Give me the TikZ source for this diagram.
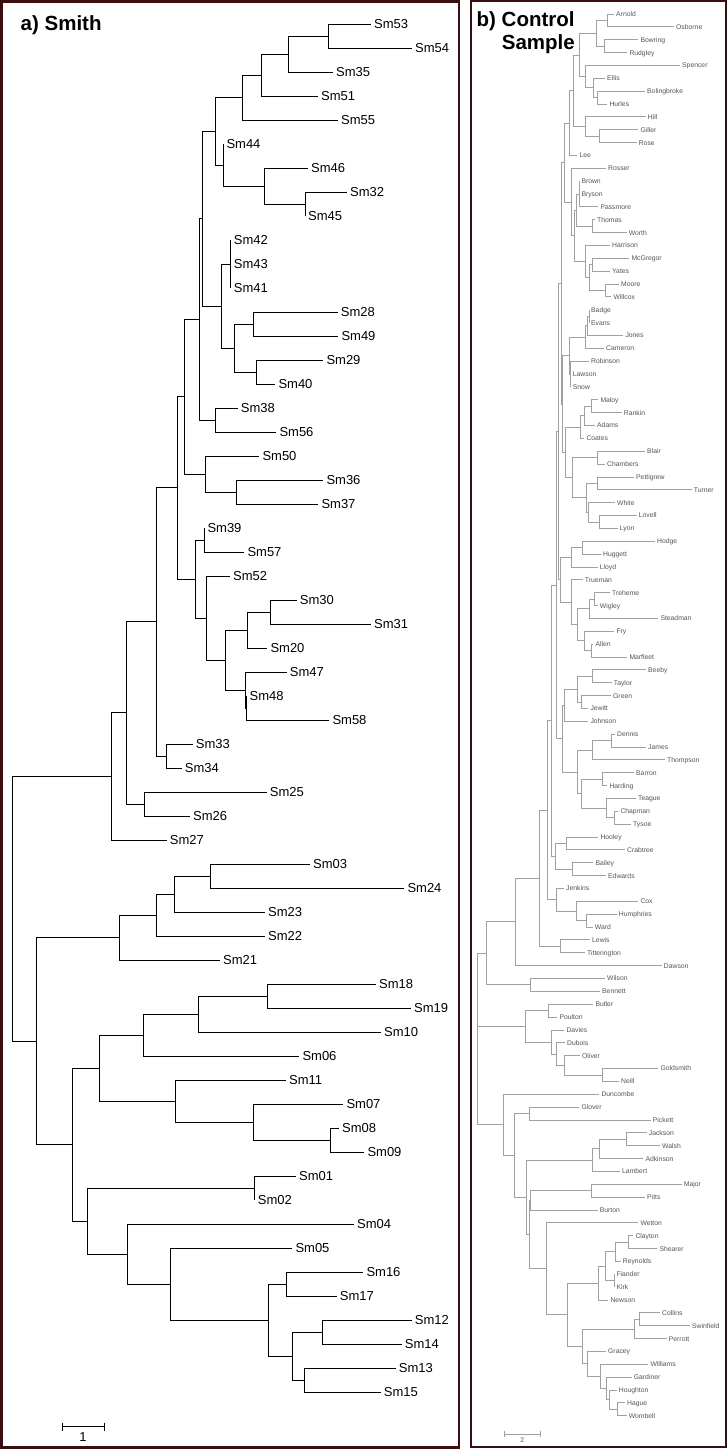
\documentclass[tikz,border=0pt]{standalone}
\usepackage{fontspec}
\setmainfont{Liberation Sans}
\definecolor{framecol}{HTML}{3A0E0E}
\definecolor{ctlline}{HTML}{A0A0A0}
\definecolor{ctltext}{HTML}{555555}
\tikzset{
  frame/.style={draw=framecol,line width=2.6pt},
  title/.style={font=\fontsize{20.5}{24}\selectfont\bfseries,inner sep=0pt},
  smleaf/.style={anchor=west,inner sep=3pt,text height=9.3pt,text depth=0pt,font=\fontsize{13}{13}\selectfont},
  ctlleaf/.style={anchor=west,inner sep=2pt,text height=4.9pt,text depth=0pt,text=ctltext,font=\fontsize{6.8}{7}\selectfont},
  smedge/.style={line width=1pt},
  ctledge/.style={draw=ctlline,line width=0.9pt}
}
\begin{document}
\begin{tikzpicture}[x=1pt,y=-1pt]
\useasboundingbox (0,0) rectangle (727,1449);
\fill[white] (0,0) rectangle (727,1449);
\draw[frame] (1.3,1.3) rectangle (459,1447.5);
\draw[frame,line width=2pt] (471,1.2) rectangle (725.8,1446.5);
\node[title,anchor=base west] (ttla) at (20.5,30.5) {a) Smith};
\node[title,anchor=base west] (ttlb) at (476.5,26.2) {b) Control};
\node[title,anchor=base east] (ttlc) at (575,49.5) {Sample};

% a) Smith
\begin{scope}[y=-24pt]
  \foreach \n/\x/\r in {Sm53/371/1, Sm54/412/2, Sm35/333/3, Sm51/318/4, Sm55/338/5,
    Sm44/223.3/6, Sm46/308/7, Sm32/347/8, Sm45/305/9, Sm42/230.7/10, Sm43/230.7/11,
    Sm41/230.7/12, Sm28/337.7/13, Sm49/338.3/14, Sm29/323.3/15, Sm40/275.3/16,
    Sm38/237.7/17, Sm56/276.3/18, Sm50/259.3/19, Sm36/323.3/20, Sm37/318.3/21,
    Sm39/204.3/22, Sm57/244.3/23, Sm52/230/24, Sm30/296.7/25, Sm31/371/26,
    Sm20/267.3/27, Sm47/286.7/28, Sm48/246.5/29, Sm58/329.3/30, Sm33/192.7/31,
    Sm34/181.7/32, Sm25/266.7/33, Sm26/190/34, Sm27/166.7/35, Sm03/310/36,
    Sm24/404.3/37, Sm23/265/38, Sm22/265/39, Sm21/220/40, Sm18/376/41, Sm19/411/42,
    Sm10/381/43, Sm06/299.3/44, Sm11/286/45, Sm07/343.3/46, Sm08/339/47,
    Sm09/364.3/48, Sm01/296/49, Sm02/254.7/50, Sm04/354/51, Sm05/292.3/52,
    Sm16/363.3/53, Sm17/336.7/54, Sm12/411.7/55, Sm14/401.7/56, Sm13/395.7/57,
    Sm15/380.7/58}
    \node[smleaf] (\n) at (\x,\r) {\n};
  \foreach \n/\x/\r in {lA/328/1.5, lB/288.3/2.25, lC/261.7/3.125, lD/242.7/4.0625,
    lE/305/8.5, lF/264/7.75, lG/223.3/6.875, lH/215.7/5.469, lI/230.7/11,
    lJ/253.7/13.5, lK/256.3/15.5, lL/234.7/14.5, lM/221.3/12.75, lN/202.3/9.109,
    lO/215.7/17.5, lP/199.3/13.305, lQ/236.3/20.5, lR/205.3/19.75, lS/184.3/16.527,
    lT/204.3/22.5, lU/270.3/25.5, lV/247.3/26.25, lW/246.5/29.5, lX/245.7/28.75,
    lY/225.7/27.5, lZ/206.7/25.75, lAA/195.3/24.125, lAB/177.3/20.326,
    lAC/166.3/31.5, lAD/156.3/25.913, lAE/144.3/33.5, lAF/126.3/29.707,
    lAG/111.3/32.353, lAH/210.7/36.5, lAI/174.7/37.25, lAJ/156.3/38.125,
    lAK/119.3/39.063, lAL/267.7/41.5, lAM/198.7/42.25, lAN/143.7/43.125,
    lAO/330.7/47.5, lAP/253.7/46.75, lAQ/175.7/45.875, lAR/99.7/44.5,
    lAS/254.7/49.5, lAT/286.7/53.5, lAU/322.7/55.5, lAV/304.3/57.5, lAW/292.7/56.5,
    lAX/268.7/55, lAY/170.7/53.5, lAZ/127.7/52.25, lBA/87.3/50.875,
    lBB/72.7/47.688, lBC/36.3/43.375, lroot/12.3/37.864}
    \coordinate (\n) at (\x,\r);
  \foreach \p/\c in {lA/Sm53, lA/Sm54, lB/lA, lB/Sm35, lC/lB, lC/Sm51, lD/lC, lD/Sm55,
    lE/Sm32, lE/Sm45, lF/Sm46, lF/lE, lG/Sm44, lG/lF, lH/lD, lH/lG,
    lI/Sm42, lI/Sm43, lI/Sm41, lJ/Sm28, lJ/Sm49, lK/Sm29, lK/Sm40, lL/lJ, lL/lK,
    lM/lI, lM/lL, lN/lH, lN/lM, lO/Sm38, lO/Sm56, lP/lN, lP/lO, lQ/Sm36, lQ/Sm37,
    lR/Sm50, lR/lQ, lS/lP, lS/lR, lT/Sm39, lT/Sm57, lU/Sm30, lU/Sm31, lV/lU, lV/Sm20,
    lW/Sm48, lW/Sm58, lX/Sm47, lX/lW, lY/lV, lY/lX, lZ/Sm52, lZ/lY, lAA/lT, lAA/lZ,
    lAB/lS, lAB/lAA, lAC/Sm33, lAC/Sm34, lAD/lAB, lAD/lAC, lAE/Sm25, lAE/Sm26,
    lAF/lAD, lAF/lAE, lAG/lAF, lAG/Sm27, lAH/Sm03, lAH/Sm24, lAI/lAH, lAI/Sm23,
    lAJ/lAI, lAJ/Sm22, lAK/lAJ, lAK/Sm21, lAL/Sm18, lAL/Sm19, lAM/lAL, lAM/Sm10,
    lAN/lAM, lAN/Sm06, lAO/Sm08, lAO/Sm09, lAP/Sm07, lAP/lAO, lAQ/Sm11, lAQ/lAP,
    lAR/lAN, lAR/lAQ, lAS/Sm01, lAS/Sm02, lAT/Sm16, lAT/Sm17, lAU/Sm12, lAU/Sm14,
    lAV/Sm13, lAV/Sm15, lAW/lAU, lAW/lAV, lAX/lAT, lAX/lAW, lAY/Sm05, lAY/lAX,
    lAZ/Sm04, lAZ/lAY, lBA/lAS, lBA/lAZ, lBB/lAR, lBB/lBA, lBC/lAK, lBC/lBB,
    lroot/lAG, lroot/lBC}
    \draw[smedge] (\p) |- (\c);
\end{scope}
\draw[smedge] (62.3,1422.7) -- (62.3,1430.7) (62.3,1426.7) -- (104.3,1426.7) (104.3,1422.7) -- (104.3,1430.7);
\node[font=\fontsize{13}{13}\selectfont,inner sep=0pt] (sbla) at (83,1437) {1};

% b) Control Sample
\begin{scope}[y=-12.86pt,yshift=-1.14pt]
  \foreach \n/\x/\r in {Arnold/614/1, Osborne/674/2, Bowring/638.3/3, Rudgley/627.3/4,
    Spencer/680/5, Ellis/605/6, Bolingbroke/645/7, Hurles/607.3/8, Hill/645.7/9,
    Giller/638.3/10, Rose/636.7/11, Lee/577.3/12, Rosser/606/13, Brown/579.3/14,
    Bryson/579.3/15, Passmore/598.3/16, Thomas/595/17, Worth/626.7/18,
    Harrison/610/19, McGregor/629.3/20, Yates/610/21, Moore/619/22, Willcox/611.3/23,
    Badge/589/24, Evans/589/25, Jones/623.3/26, Cameron/604/27, Robinson/589/28,
    Lawson/570.7/29, Snow/570.7/30, Maloy/598.3/31, Rankin/621.7/32, Adams/595/33,
    Coates/584.3/34, Blair/645/35, Chambers/605/36, Pettigrew/634/37,
    Turner/691.7/38, White/615/39, Lovell/636.7/40, Lyon/617.7/41, Hodge/655/42,
    Huggett/601/43, Lloyd/597.7/44, Trueman/582.7/45, Treheme/610/46,
    Wigley/597.7/47, Steadman/658.3/48, Fry/614.3/49, Allen/593.3/50,
    Marfleet/627.3/51, Beeby/646/52, Taylor/611.7/53, Green/611/54, Jewitt/588.3/55,
    Johnson/588.3/56, Dennis/615/57, James/646/58, Thompson/665/59, Barron/634/60,
    Harding/607.3/61, Teague/636/62, Chapman/618.3/63, Tysoe/631/64,
    Hooley/598.3/65, Crabtree/625/66, Bailey/593.3/67, Edwards/606/68,
    Jenkins/564/69, Cox/638.3/70, Humphries/616.7/71, Ward/592.7/72, Lewis/590/73,
    Titterington/585/74, Dawson/661.7/75, Wilson/605/76, Bennett/600/77,
    Butler/593.3/78, Poulton/557.3/79, Davies/564.3/80, Dubois/565/81, Oliver/580/82,
    Goldsmith/658.3/83, Neill/619/84, Duncombe/599.3/85, Glover/579.3/86,
    Pickett/650.7/87, Jackson/646.7/88, Walsh/660/89, Adkinson/643.3/90,
    Lambert/620/91, Major/681.7/92, Pitts/645/93, Burton/597.7/94, Wetton/638.3/95,
    Clayton/633.3/96, Shearer/657.3/97, Reynolds/620.7/98, Fiander/614.3/99,
    Kirk/614.3/100, Newson/608.3/101, Collins/660/102, Swinfield/690/103,
    Perrott/666.7/104, Gracey/606/105, Williams/648.3/106, Gardiner/631.7/107,
    Houghton/616.7/108, Hague/625/109, Wombell/626.7/110}
    \node[ctlleaf] (\n) at (\x,\r) {\n};
  \foreach \n/\x/\r in {rb1/607.3/1.5, rb2/604.3/3.5, rb3/596.7/2.5, rb4/597.7/7.5,
    rb5/593/6.75, rb6/585.7/5.875, rb7/579/4.1875, rb8/599.3/10.5, rb9/585.3/9.75,
    rb10/573.7/6.969, rb11/569.3/9.484, rb12/579.3/15, rb13/592.3/17.5,
    rb14/576.3/16.25, rb15/592.3/20.5, rb16/605.3/22.5, rb17/589.3/21.5,
    rb18/585/20.25, rb19/574.3/18.25, rb20/571.3/15.625, rb21/564.3/12.555,
    rc1/589/24.5, rc2/587.3/25.25, rc3/585.7/26.125, rc4/570.7/29, rc5/569.3/27.5625,
    rd1/591.7/31.5, rd2/584.3/32.25, rd3/580/33.125, rd4/597.7/35.5, rd5/597.7/37.5,
    rd6/599.3/40.5, rd7/588.3/39.75, rd8/586/38.625, rd9/572.3/37.0625,
    rd10/565.7/35.094, rd11/562.7/31.328, rd12/561.7/21.94,
    re1/582.3/42.5, re2/571/43.25, re3/594/46.5, re4/589.3/47.25, re5/591.7/50.5,
    re6/584.3/49.75, re7/577.7/48.5, re8/571/46.75, re9/560.7/45, rp1/558.3/33.47,
    rf1/592.7/52.5, rf2/581/54.5, rf3/577.7/53.5, rf4/564.3/54.75, rf5/611.7/57.5,
    rf6/592.7/58.25, rf7/602.3/60.5, rf8/614.7/63.5, rf9/606.7/62.75,
    rf10/581/61.625, rf11/577.7/59.94, rf12/562.7/57.34, rp2/556/45.41,
    rg1/566/65.5, rg2/572.7/67.5, rg3/555.7/66.5, rp3/551/55.95, rg4/586.7/71.5,
    rg5/576.7/70.75, rg6/556/69.875, rp4/547.7/62.91, rg7/560.7/73.5,
    rp5/539.3/68.21, rp6/515.7/71.6, rh1/530.7/76.5, rp7/486/74.05,
    ri1/548.3/78.5, ri2/602.7/83.5, ri3/564.3/82.75, ri4/556/81.875,
    ri5/551.7/80.94, ri6/525/79.72, rj1/529/86.5, rj2/626.7/88.5, rj3/599.3/89.25,
    rj4/592.7/90.125, rk1/591/92.5, rk2/530.7/93.25, rk3/628.3/96.5,
    rk4/615.7/97.25, rk5/614.3/99.5, rk6/605.7/98.375, rk7/598.3/99.69,
    rm1/639.3/102.5, rm2/634.7/103.25, rm3/617.7/109.5, rm4/609.3/108.75,
    rm5/606.7/107.875, rm6/600.7/106.94, rm7/587.3/105.97, rm8/582.7/104.61,
    rm9/567.3/102.15, rk8/546.7/98.57, rk9/529/95.91, rj5/526/93.02,
    rj6/514.3/89.76, rj7/503.3/87.38, rroot/477.3/80.72}
    \coordinate (\n) at (\x,\r);
  \foreach \p/\c in {rb1/Arnold, rb1/Osborne, rb2/Bowring, rb2/Rudgley, rb3/rb1, rb3/rb2,
    rb4/Bolingbroke, rb4/Hurles, rb5/Ellis, rb5/rb4, rb6/Spencer, rb6/rb5, rb7/rb3,
    rb7/rb6, rb8/Giller, rb8/Rose, rb9/Hill, rb9/rb8, rb10/rb7, rb10/rb9, rb11/rb10,
    rb11/Lee, rb12/Brown, rb12/Bryson, rb12/Passmore, rb13/Thomas, rb13/Worth,
    rb14/rb12, rb14/rb13, rb15/McGregor, rb15/Yates, rb16/Moore, rb16/Willcox,
    rb17/rb15, rb17/rb16, rb18/Harrison, rb18/rb17, rb19/rb14, rb19/rb18,
    rb20/Rosser, rb20/rb19, rb21/rb11, rb21/rb20,
    rc1/Badge, rc1/Evans, rc2/rc1, rc2/Jones, rc3/rc2, rc3/Cameron, rc4/Robinson,
    rc4/Lawson, rc4/Snow, rc5/rc3, rc5/rc4,
    rd1/Maloy, rd1/Rankin, rd2/rd1, rd2/Adams, rd3/rd2, rd3/Coates, rd4/Blair,
    rd4/Chambers, rd5/Pettigrew, rd5/Turner, rd6/Lovell, rd6/Lyon, rd7/White,
    rd7/rd6, rd8/rd5, rd8/rd7, rd9/rd4, rd9/rd8, rd10/rd3, rd10/rd9, rd11/rc5,
    rd11/rd10, rd12/rb21, rd12/rd11,
    re1/Hodge, re1/Huggett, re2/re1, re2/Lloyd, re3/Treheme, re3/Wigley, re4/re3,
    re4/Steadman, re5/Allen, re5/Marfleet, re6/Fry, re6/re5, re7/re4, re7/re6,
    re8/Trueman, re8/re7, re9/re2, re9/re8, rp1/rd12, rp1/re9,
    rf1/Beeby, rf1/Taylor, rf2/Green, rf2/Jewitt, rf3/rf1, rf3/rf2, rf4/rf3,
    rf4/Johnson, rf5/Dennis, rf5/James, rf6/rf5, rf6/Thompson, rf7/Barron,
    rf7/Harding, rf8/Chapman, rf8/Tysoe, rf9/Teague, rf9/rf8, rf10/rf7, rf10/rf9,
    rf11/rf6, rf11/rf10, rf12/rf4, rf12/rf11, rp2/rp1, rp2/rf12,
    rg1/Hooley, rg1/Crabtree, rg2/Bailey, rg2/Edwards, rg3/rg1, rg3/rg2, rp3/rp2,
    rp3/rg3, rg4/Humphries, rg4/Ward, rg5/Cox, rg5/rg4, rg6/Jenkins, rg6/rg5,
    rp4/rp3, rp4/rg6, rg7/Lewis, rg7/Titterington, rp5/rp4, rp5/rg7, rp6/rp5,
    rp6/Dawson, rh1/Wilson, rh1/Bennett, rp7/rp6, rp7/rh1,
    ri1/Butler, ri1/Poulton, ri2/Goldsmith, ri2/Neill, ri3/Oliver, ri3/ri2,
    ri4/Dubois, ri4/ri3, ri5/Davies, ri5/ri4, ri6/ri1, ri6/ri5,
    rj1/Glover, rj1/Pickett, rj2/Jackson, rj2/Walsh, rj3/rj2, rj3/Adkinson,
    rj4/rj3, rj4/Lambert, rk1/Major, rk1/Pitts, rk2/rk1, rk2/Burton, rk3/Clayton,
    rk3/Shearer, rk4/rk3, rk4/Reynolds, rk5/Fiander, rk5/Kirk, rk6/rk4, rk6/rk5,
    rk7/rk6, rk7/Newson, rm1/Collins, rm1/Swinfield, rm2/rm1, rm2/Perrott,
    rm3/Hague, rm3/Wombell, rm4/Houghton, rm4/rm3, rm5/Gardiner, rm5/rm4,
    rm6/Williams, rm6/rm5, rm7/Gracey, rm7/rm6, rm8/rm2, rm8/rm7, rm9/rk7,
    rm9/rm8, rk8/Wetton, rk8/rm9, rk9/rk2, rk9/rk8, rj5/rj4, rj5/rk9, rj6/rj1,
    rj6/rj5, rj7/Duncombe, rj7/rj6, rroot/rp7, rroot/ri6, rroot/rj7}
    \draw[ctledge] (\p) |- (\c);
\end{scope}
\draw[ctledge] (504.3,1431.3) -- (504.3,1437.3) (504.3,1434.3) -- (540.3,1434.3) (540.3,1431.3) -- (540.3,1437.3);
\node[font=\fontsize{6.8}{7}\selectfont,text=ctltext,inner sep=0pt] (sblb) at (522.3,1440.5) {2};
\end{tikzpicture}
\end{document}
